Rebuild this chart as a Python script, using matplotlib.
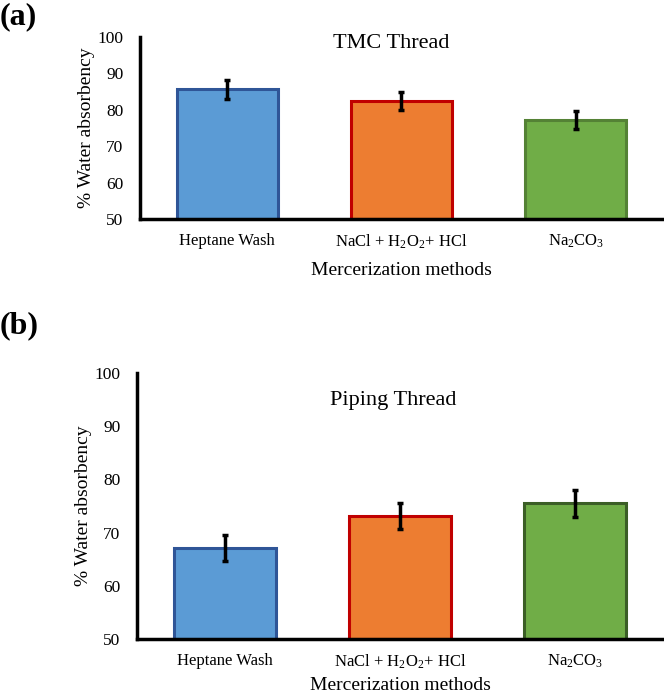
import matplotlib
matplotlib.use("Agg")
import matplotlib.pyplot as plt

plt.rcParams['font.family'] = ['Liberation Serif', 'DejaVu Serif']
plt.rcParams['mathtext.fontset'] = 'custom'
plt.rcParams['mathtext.rm'] = 'Liberation Serif'
plt.rcParams['mathtext.it'] = 'Liberation Serif:italic'
plt.rcParams['mathtext.bf'] = 'Liberation Serif:bold'

categories = ['Heptane Wash', r'NaCl + H$_2$O$_2$+ HCl', r'Na$_2$CO$_3$']
tmc_values = [85.6, 82.4, 77.3]
tmc_errors = [2.5, 2.5, 2.5]
piping_values = [67.1, 73.1, 75.5]
piping_errors = [2.5, 2.5, 2.5]
yticks = [50, 60, 70, 80, 90, 100]

fills = ['#5B9BD5', '#ED7D31', '#70AD47']
edges_top = ['#2F5597', '#C00000', '#548235']
edges_bot = ['#2F5597', '#C00000', '#3B5E26']

fig = plt.figure(figsize=(6.64, 6.94), dpi=100)
ax1 = fig.add_axes([0.2108, 0.6844, 0.7877, 0.2622])
ax2 = fig.add_axes([0.2063, 0.0793, 0.7922, 0.3833])

def draw(ax, values, errors, title, edges, ty, tx, xpad):
    x = list(range(len(categories)))
    ax.bar(x, [v - 50 for v in values], bottom=50, width=0.58, color=fills,
           edgecolor=edges, linewidth=2.2, zorder=2)
    ax.errorbar(x, values, yerr=errors, fmt='none', ecolor='black',
                elinewidth=2.5, capsize=2.2, capthick=2.5, zorder=3)
    ax.set_xlim(-0.5, 2.5)
    ax.set_ylim(50, 100)
    ax.set_yticks(yticks)
    ax.set_xticks(x)
    ax.set_xticklabels(categories)
    for s in ['top', 'right']:
        ax.spines[s].set_visible(False)
    for s in ['left', 'bottom']:
        ax.spines[s].set_linewidth(2.5)
        ax.spines[s].set_color('black')
    ax.tick_params(axis='y', length=0, pad=12, labelsize=12.5)
    ax.tick_params(axis='x', length=0, pad=10, labelsize=12)
    ax.set_xlabel('Mercerization methods', fontsize=14, labelpad=xpad)
    ax.set_ylabel('% Water absorbency', fontsize=14, labelpad=2)
    ax.text(tx, ty, title, transform=ax.transAxes, ha='center', va='center',
            fontsize=16)

draw(ax1, tmc_values, tmc_errors, 'TMC Thread', edges_top, 0.962, 0.48, 8)
draw(ax2, piping_values, piping_errors, 'Piping Thread', edges_bot, 0.898, 0.487, 4)

fig.text(0.0, 0.997, '(a)', fontsize=23, fontweight='bold', ha='left', va='top')
fig.text(0.0, 0.551, '(b)', fontsize=23, fontweight='bold', ha='left', va='top')

fig.savefig('out.png', dpi=100)
